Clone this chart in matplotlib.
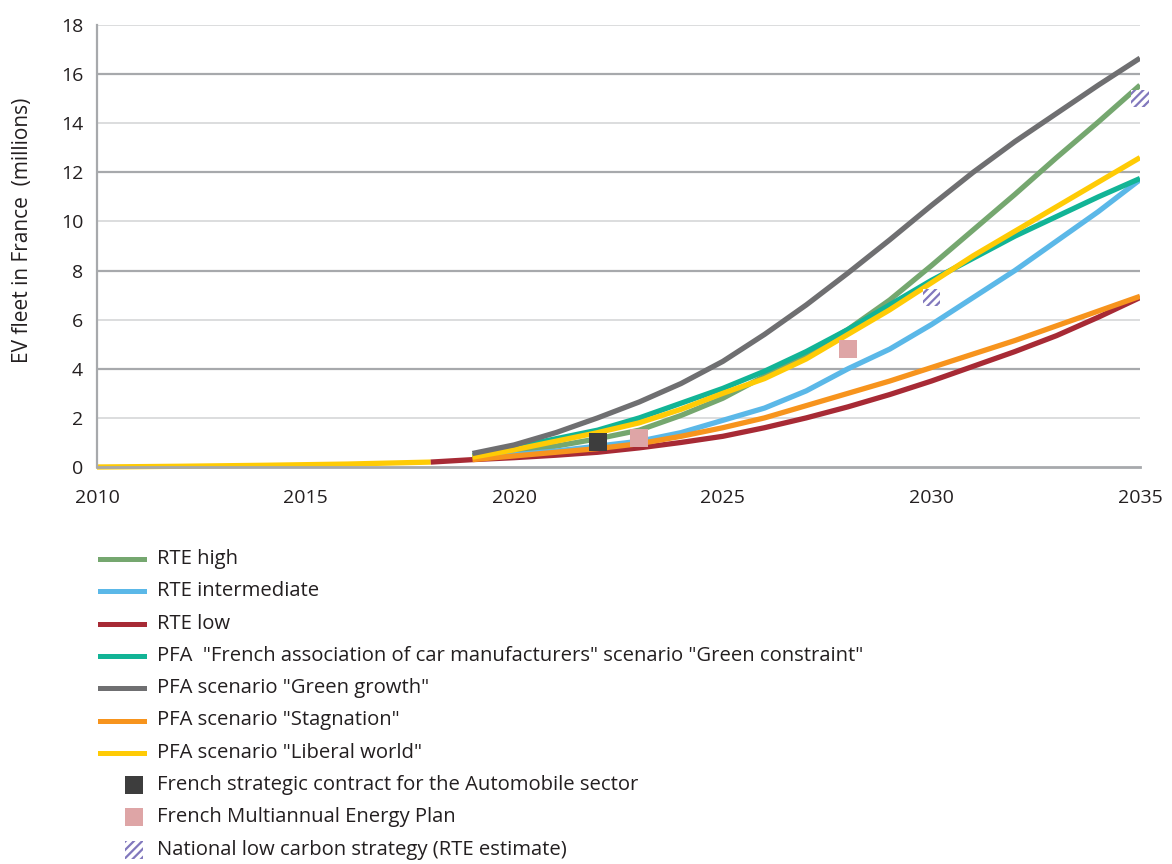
import matplotlib
matplotlib.use("Agg")
from matplotlib import pyplot as plt
from matplotlib.patches import Rectangle
from matplotlib.lines import Line2D

plt.rcParams['font.family'] = ['Open Sans', 'DejaVu Sans']
plt.rcParams['hatch.linewidth'] = 1.6

# historical fleet (yellow part 2010-2018)
hist_years = [2010, 2012, 2014, 2016, 2018]
hist_values = [0.0, 0.03, 0.07, 0.12, 0.2]

years = list(range(2019, 2036))
rte_high = [0.4, 0.6, 0.85, 1.15, 1.5, 2.1, 2.8, 3.7, 4.6, 5.6, 6.8, 8.2, 9.65, 11.1, 12.6, 14.05, 15.55]
rte_mid = [0.35, 0.5, 0.65, 0.85, 1.05, 1.4, 1.9, 2.4, 3.1, 4.0, 4.8, 5.8, 6.9, 8.0, 9.2, 10.4, 11.7]
rte_low_years = list(range(2018, 2036))
rte_low = [0.2, 0.3, 0.38, 0.48, 0.6, 0.78, 1.0, 1.25, 1.6, 2.0, 2.45, 2.95, 3.5, 4.1, 4.7, 5.35, 6.1, 6.9]
pfa_constraint = [0.45, 0.8, 1.15, 1.5, 2.0, 2.6, 3.2, 3.9, 4.7, 5.6, 6.6, 7.6, 8.5, 9.4, 10.2, 11.0, 11.75]
pfa_growth = [0.55, 0.9, 1.4, 2.0, 2.65, 3.4, 4.3, 5.4, 6.6, 7.9, 9.25, 10.65, 12.0, 13.25, 14.4, 15.55, 16.65]
pfa_stagnation = [0.3, 0.45, 0.6, 0.75, 0.95, 1.25, 1.6, 2.0, 2.5, 3.0, 3.5, 4.05, 4.6, 5.15, 5.75, 6.35, 6.95]
pfa_liberal = [0.4, 0.7, 1.05, 1.4, 1.8, 2.35, 3.0, 3.6, 4.4, 5.4, 6.4, 7.5, 8.6, 9.6, 10.6, 11.6, 12.6]

contrat_years = [2022]
contrat_values = [1.0]
ppe_years = [2023, 2028]
ppe_values = [1.2, 4.8]
snbc_years = [2030, 2035]
snbc_values = [6.9, 15.0]

c_green = "#75a76f"
c_blue = "#5bb8e8"
c_red = "#a72a35"
c_teal = "#12b496"
c_gray = "#6f6f71"
c_orange = "#f7941d"
c_yellow = "#ffcb05"
c_black = "#3d3d3d"
c_pink = "#dea5a6"
c_hatch = "#8178bd"
txt = "#231f20"

fig = plt.figure(figsize=(11.72, 8.64), dpi=100)
ax = fig.add_axes([97/1172, 1 - 467/864, 1043/1172, 442/864])

ax.set_xlim(2010, 2035)
ax.set_ylim(0, 18)

# grid
for v in range(2, 19, 2):
    if v % 4 == 0:
        ax.axhline(v, color="#a7a9ac", lw=1.6, zorder=0)
    else:
        ax.axhline(v, color="#d9dadb", lw=1.3, zorder=0)
for s in ["top", "right"]:
    ax.spines[s].set_visible(False)
ax.spines["left"].set_color("#a7a9ac")
ax.spines["left"].set_linewidth(1.6)
ax.spines["bottom"].set_color("#a7a9ac")
ax.spines["bottom"].set_linewidth(2.0)

lw = 3.8
ax.plot(hist_years, hist_values, color=c_yellow, lw=lw, clip_on=False, solid_capstyle="butt")
ax.plot(years, rte_high, color=c_green, lw=lw, solid_capstyle="butt")
ax.plot(years, rte_mid, color=c_blue, lw=lw, solid_capstyle="butt")
ax.plot(rte_low_years, rte_low, color=c_red, lw=lw, solid_capstyle="butt")
ax.plot(years, pfa_stagnation, color=c_orange, lw=lw, solid_capstyle="butt")
ax.plot(years, pfa_constraint, color=c_teal, lw=lw, solid_capstyle="butt")
ax.plot(years, pfa_liberal, color=c_yellow, lw=lw, solid_capstyle="butt")
ax.plot(years, pfa_growth, color=c_gray, lw=lw, solid_capstyle="butt")

ms = 155
ax.scatter(contrat_years, contrat_values, marker="s", s=ms, color=c_black, linewidths=0, zorder=5, clip_on=False)
ax.scatter(ppe_years, ppe_values, marker="s", s=ms, color=c_pink, linewidths=0, zorder=5, clip_on=False)
ax.scatter(snbc_years, snbc_values, marker="s", s=ms, facecolor="white", edgecolor=c_hatch,
           hatch="////", linewidths=0, zorder=5, clip_on=False)

ax.set_xticks([2010, 2015, 2020, 2025, 2030, 2035])
ax.set_yticks(range(0, 19, 2))
ax.tick_params(length=0, labelsize=14, colors=txt)
ax.tick_params(axis="y", pad=10)
ax.tick_params(axis="x", pad=16)
ax.set_ylabel("EV fleet in France  (millions)", fontsize=15, color=txt)
ax.yaxis.set_label_coords(-0.061, 0.536)

# legend drawn by hand in figure pixels
W, H = 1172, 864
lines_leg = [
    (c_green, "RTE high"),
    (c_blue, "RTE intermediate"),
    (c_red, "RTE low"),
    (c_teal, 'PFA  "French association of car manufacturers" scenario "Green constraint"'),
    (c_gray, 'PFA scenario "Green growth"'),
    (c_orange, 'PFA scenario "Stagnation"'),
    (c_yellow, 'PFA scenario "Liberal world"'),
]
y0 = 559
step = 32.3
for i, (col, lab) in enumerate(lines_leg):
    y = y0 + i * step
    fig.add_artist(Line2D([100/W, 144/W], [1 - y/H, 1 - y/H], color=col, lw=3.6))
    fig.text(157/W, 1 - y/H, lab, fontsize=14.6, color=txt, va="center", ha="left")

sq_leg = [
    (dict(facecolor=c_black, edgecolor="none"), "French strategic contract for the Automobile sector"),
    (dict(facecolor=c_pink, edgecolor="none"), "French Multiannual Energy Plan"),
    (dict(facecolor="white", edgecolor=c_hatch, hatch="////", linewidth=0), "National low carbon strategy (RTE estimate)"),
]
for j, (kw, lab) in enumerate(sq_leg):
    y = y0 + (7 + j) * step
    fig.add_artist(Rectangle((125/W, 1 - (y + 9)/H), 18/W, 18/H, transform=fig.transFigure, **kw))
    fig.text(157/W, 1 - y/H, lab, fontsize=14.6, color=txt, va="center", ha="left")

fig.savefig("out.png", dpi=100)
